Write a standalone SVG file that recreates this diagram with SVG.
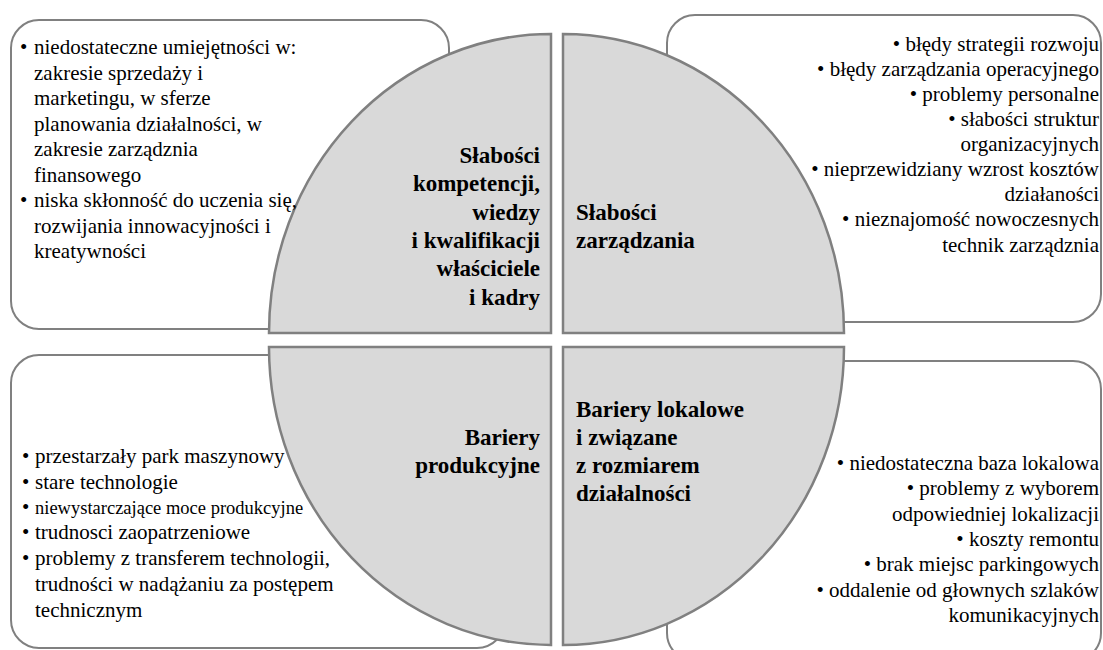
<svg xmlns="http://www.w3.org/2000/svg" width="1103" height="650" viewBox="0 0 1103 650">
<style>
.box{fill:#ffffff;stroke:#808080;stroke-width:2}
.quad{fill:#d9d9d9;stroke:#808080;stroke-width:2.5;stroke-linejoin:miter}
.t{font-size:21px;fill:#000}
.b{font-size:23px;font-weight:bold;fill:#000}
.e{text-anchor:end}
</style>
<rect width="1103" height="650" fill="#ffffff"/>
<g id="box-tl"><rect class="box" x="11" y="20" width="438" height="309" rx="28"/></g>
<g id="box-tr"><rect class="box" x="667" y="15" width="434" height="307" rx="28"/></g>
<g id="box-bl"><rect class="box" x="11" y="355" width="494" height="293" rx="28"/></g>
<g id="box-br"><rect class="box" x="667" y="361" width="434" height="300" rx="28"/></g>
<g font-family="Liberation Serif, Tinos, Times New Roman, Times, serif">
<g id="quad-tl">
<path class="quad" d="M551,333 L269,333 A282,299 0 0 1 551,34 Z"/>
<text class="b e"><tspan x="540" y="163">Słabości</tspan><tspan x="540" y="191">kompetencji,</tspan><tspan x="540" y="220">wiedzy</tspan><tspan x="540" y="248">i kwalifikacji</tspan><tspan x="540" y="276">właściciele</tspan><tspan x="540" y="305">i kadry</tspan></text>
</g>
<g id="quad-tr">
<path class="quad" d="M563,333 L563,34 A281,299 0 0 1 844,333 Z"/>
<text class="b"><tspan x="576" y="220">Słabości</tspan><tspan x="576" y="248">zarządzania</tspan></text>
</g>
<g id="quad-bl">
<path class="quad" d="M551,347 L551,645 A282,298 0 0 1 269,347 Z"/>
<text class="b e"><tspan x="540" y="445">Bariery</tspan><tspan x="540" y="473">produkcyjne</tspan></text>
</g>
<g id="quad-br">
<path class="quad" d="M563,347 L844,347 A281,298 0 0 1 563,645 Z"/>
<text class="b"><tspan x="576" y="417">Bariery lokalowe</tspan><tspan x="576" y="445">i związane</tspan><tspan x="576" y="473">z rozmiarem</tspan><tspan x="576" y="501">działalności</tspan></text>
</g>
<g id="box-tl-text" class="t">
<text x="20" y="54">•</text>
<text x="20" y="207">•</text>
<text><tspan x="34" y="54">niedostateczne umiejętności w:</tspan><tspan x="34" y="79.5">zakresie sprzedaży i</tspan><tspan x="34" y="105">marketingu, w sferze</tspan><tspan x="34" y="130.5">planowania działalności, w</tspan><tspan x="34" y="156">zakresie zarządznia</tspan><tspan x="34" y="181.5">finansowego</tspan><tspan x="34" y="207">niska skłonność do uczenia się,</tspan><tspan x="34" y="232.5">rozwijania innowacyjności i</tspan><tspan x="34" y="258">kreatywności</tspan></text>
</g>
<g id="box-tr-text" class="t">
<text class="e"><tspan x="1099" y="51">• błędy strategii rozwoju</tspan><tspan x="1099" y="76">• błędy zarządzania operacyjnego</tspan><tspan x="1099" y="101">• problemy personalne</tspan><tspan x="1099" y="126">• słabości struktur</tspan><tspan x="1099" y="151">organizacyjnych</tspan><tspan x="1099" y="176">• nieprzewidziany wzrost kosztów</tspan><tspan x="1099" y="201">działaności</tspan><tspan x="1099" y="226">• nieznajomość nowoczesnych</tspan><tspan x="1099" y="252">technik zarządznia</tspan></text>
</g>
<g id="box-bl-text" class="t">
<text x="22" y="463">•</text>
<text x="22" y="489">•</text>
<text x="22" y="514">•</text>
<text x="22" y="539">•</text>
<text x="22" y="565">•</text>
<text><tspan x="35" y="463">przestarzały park maszynowy</tspan><tspan x="35" y="489">stare technologie</tspan><tspan x="35" y="514" font-size="18.5">niewystarczające moce produkcyjne</tspan><tspan x="35" y="539">trudnosci zaopatrzeniowe</tspan><tspan x="35" y="565">problemy z transferem technologii,</tspan><tspan x="35" y="591">trudności w nadążaniu za postępem</tspan><tspan x="35" y="617">technicznym</tspan></text>
</g>
<g id="box-br-text" class="t">
<text class="e"><tspan x="1099" y="470">• niedostateczna baza lokalowa</tspan><tspan x="1099" y="495">• problemy z wyborem</tspan><tspan x="1099" y="521">odpowiedniej lokalizacji</tspan><tspan x="1099" y="546">• koszty remontu</tspan><tspan x="1099" y="571">• brak miejsc parkingowych</tspan><tspan x="1099" y="597">• oddalenie od głownych szlaków</tspan><tspan x="1099" y="622">komunikacyjnych</tspan></text>
</g>
</g>
<g id="connectors"/>
</svg>
